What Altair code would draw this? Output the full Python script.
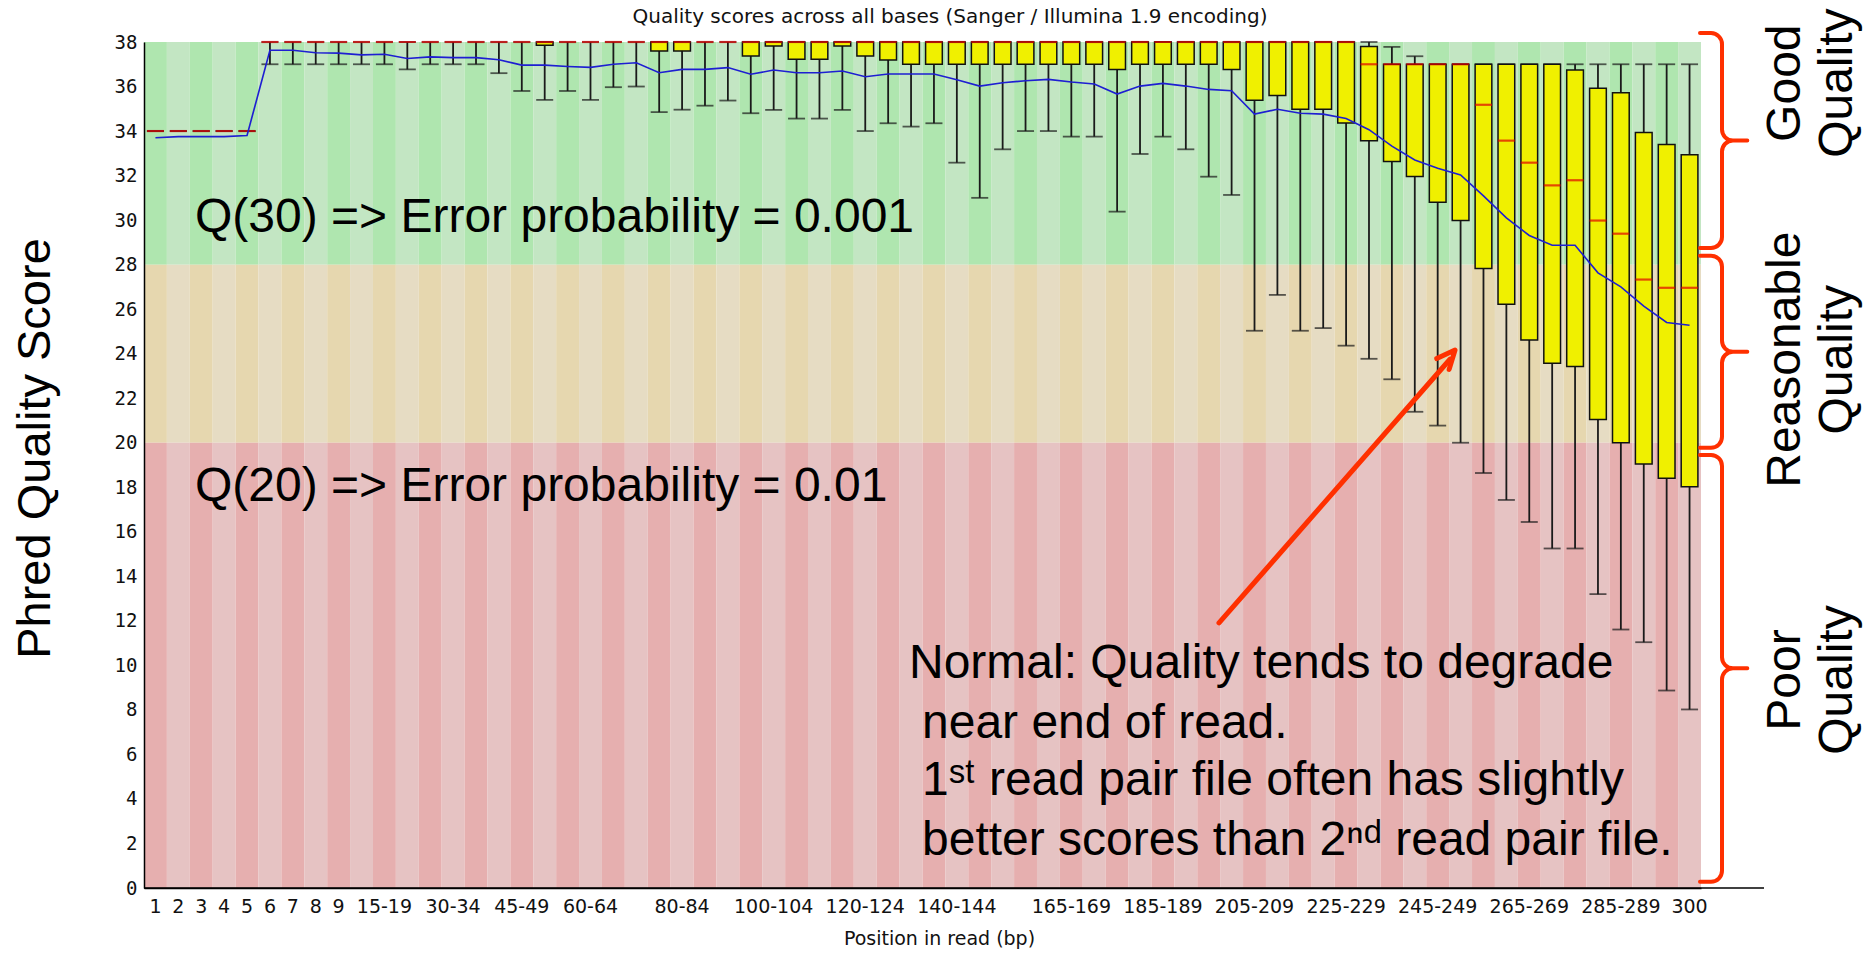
import altair as alt
import pandas as pd

# ---------------- data ----------------
chart_title = ["Quality scores across all bases (Sanger / Illumina 1.9 encoding)"]

positions = ["1", "2", "3", "4", "5", "6", "7", "8", "9", "10-14", "15-19", "20-24", "25-29",
             "30-34", "35-39", "40-44", "45-49", "50-54", "55-59", "60-64", "65-69", "70-74",
             "75-79", "80-84", "85-89", "90-94", "95-99", "100-104", "105-109", "110-114",
             "115-119", "120-124", "125-129", "130-134", "135-139", "140-144", "145-149",
             "150-154", "155-159", "160-164", "165-169", "170-174", "175-179", "180-184",
             "185-189", "190-194", "195-199", "200-204", "205-209", "210-214", "215-219",
             "220-224", "225-229", "230-234", "235-239", "240-244", "245-249", "250-254",
             "255-259", "260-264", "265-269", "270-274", "275-279", "280-284", "285-289",
             "290-294", "295-299", "300"]

axis_labels = ["1", "2", "3", "4", "5", "6", "7", "8", "9", "15-19", "30-34", "45-49", "60-64",
               "80-84", "100-104", "120-124", "140-144", "165-169", "185-189", "205-209",
               "225-229", "245-249", "265-269", "285-289", "300"]

mean_q = [33.70, 33.75, 33.75, 33.75, 33.80, 37.63, 37.63, 37.52, 37.50, 37.42,
          37.45, 37.26, 37.33, 37.30, 37.30, 37.20, 36.96, 36.96, 36.90, 36.86,
          37.00, 37.07, 36.62, 36.77, 36.77, 36.85, 36.55, 36.74, 36.62, 36.62,
          36.70, 36.44, 36.56, 36.56, 36.56, 36.30, 36.02, 36.17, 36.26, 36.32,
          36.20, 36.11, 35.66, 36.02, 36.14, 36.02, 35.87, 35.81, 34.76, 34.98,
          34.80, 34.76, 34.56, 34.06, 33.32, 32.70, 32.33, 32.03, 31.09, 30.10,
          29.31, 28.87, 28.87, 27.63, 27.00, 26.14, 25.40, 25.28]

median_q = [34, 34, 34, 34, 34] + [38] * 48 + [37, 37, 37, 37, 37,
            35.18, 33.57, 32.58, 31.56, 31.79, 29.98, 29.39, 27.33, 26.96, 26.96]

upper_q = [34, 34, 34, 34, 34] + [38] * 48 + [37.8, 37, 37, 37, 37, 37, 37, 37, 37,
           36.74, 35.92, 35.72, 33.94, 33.40, 32.93]

lower_q = [34, 34, 34, 34, 34, 38, 38, 38, 38, 38,
           38, 38, 38, 38, 38, 38, 38, 37.85, 38, 38,
           38, 38, 37.60, 37.60, 38, 38, 37.37, 37.82, 37.22, 37.22,
           37.82, 37.37, 37.19, 37.0, 37.0, 37.0, 37.0, 37.0, 37.0, 37.0,
           37.0, 37.0, 36.77, 37.0, 37.0, 37.0, 37.0, 36.77, 35.38, 35.60,
           34.98, 34.98, 34.36, 33.57, 32.63, 31.96, 30.80, 29.98, 27.83, 26.22,
           24.61, 23.57, 23.42, 21.04, 20.00, 19.04, 18.40, 18.02]

p10 = [34, 34, 34, 34, 34, 37, 37, 37, 37, 37,
       37, 36.77, 37, 37, 37, 36.60, 35.80, 35.40, 35.80, 35.40,
       35.97, 36.00, 34.85, 34.96, 35.14, 35.37, 34.80, 34.95, 34.56, 34.56,
       34.95, 34.00, 34.35, 34.20, 34.35, 32.58, 31.00, 33.18, 34.00, 34.00,
       33.75, 33.75, 30.38, 32.97, 33.75, 33.18, 31.95, 31.13, 25.03, 26.64,
       25.03, 25.15, 24.36, 23.77, 22.85, 21.39, 20.77, 20.00, 18.64, 17.43,
       16.44, 15.25, 15.25, 13.20, 11.61, 11.04, 8.87, 8.02]

p90 = [34, 34, 34, 34, 34] + [38] * 49 + [37.78, 37.36] + [37] * 12

zone_names = ["good", "reasonable", "poor"]
zone_low = [28, 20, 0]
zone_high = [38, 28, 20]

big_texts = ["Q(30) => Error probability = 0.001", "Q(20) => Error probability = 0.01"]
big_text_q = [30.1, 18.0]

note_first = ["Normal: Quality tends to degrade"]
note_first_q = [10.07]
note_rest = ["near end of read.",
             "1\u02e2\u1d57 read pair file often has slightly",
             "better scores than 2\u207f\u1d48 read pair file."]
note_rest_q = [7.38, 4.82, 2.12]

side_line1 = ["Good", "Reasonable", "Poor"]
side_line2 = ["Quality", "Quality", "Quality"]
side_label_q = [36.15, 23.73, 9.34]

brace_top = [38.4, 28.4, 19.45]
brace_bottom = [28.75, 19.77, 0.28]

arrow_tail_q = [11.91]
arrow_head_q = [23.75]
arrow_tip_q = [23.85]

# ---------------- tables ----------------
df = pd.DataFrame({"pos": positions, "mean": mean_q, "median": median_q,
                   "q1": lower_q, "q3": upper_q, "p10": p10, "p90": p90})

bg_rows = []
for i, p in enumerate(positions):
    for z, lo, hi in zip(zone_names, zone_low, zone_high):
        bg_rows.append({"pos": p, "lo": lo, "hi": hi, "shade": f"{z}{i % 2}"})
bg = pd.DataFrame(bg_rows)

shade_domain = ["good0", "good1", "reasonable0", "reasonable1", "poor0", "poor1"]
shade_range = ["#AFE6AF", "#C3E6C3", "#E6D7AF", "#E6DCC3", "#E6AFAF", "#E6C3C3"]

W, H = 1557, 846
xscale = alt.Scale(domain=positions, paddingInner=0, paddingOuter=0)
yscale = alt.Scale(domain=[0, 38], nice=False, zero=False)

X = alt.X("pos:N", scale=xscale)


def Y(field):
    return alt.Y(field, scale=yscale)


background = alt.Chart(bg).mark_rect().encode(
    x=alt.X("pos:N", scale=xscale, axis=alt.Axis(
        values=axis_labels, labelAngle=0, ticks=False, grid=False, domain=True,
        domainColor="#000", domainWidth=1.5, labelFont="DejaVu Sans", labelFontSize=19,
        labelColor="#111", labelPadding=9, labelOverlap=False, zindex=1,
        title="Position in read (bp)", titleFont="DejaVu Sans", titleFontSize=19,
        titleFontWeight="normal", titleColor="#111", titlePadding=13, titleX=795,
        titleAlign="center")),
    y=alt.Y("lo:Q", scale=yscale, axis=alt.Axis(
        values=list(range(0, 39, 2)), ticks=False, grid=False, domain=True,
        domainColor="#000", domainWidth=1.5, labelFont="DejaVu Sans Mono",
        labelFontSize=19, labelPadding=7, labelColor="#111", labelFlush=False, zindex=1,
        title="Phred Quality Score", titleFont="Liberation Sans", titleFontSize=47,
        titleFontWeight="normal", titleColor="#000", titleAngle=270, titleX=-109,
        titleY=406, titleAlign="center", titleBaseline="middle")),
    y2="hi:Q",
    color=alt.Color("shade:N", scale=alt.Scale(domain=shade_domain, range=shade_range),
                    legend=None),
)

title_mark = alt.Chart(pd.DataFrame({"t": chart_title})).mark_text(
    align="center", baseline="middle", font="DejaVu Sans", fontSize=20, color="#111"
).encode(x=alt.value(806), y=alt.value(-25), text="t:N")

axis_ext = alt.Chart(pd.DataFrame({"v": [0]})).mark_rule(color="#000", strokeWidth=1.5).encode(
    x=alt.value(0), x2=alt.value(1620), y=Y("v:Q"))

whiskers = alt.Chart(df).mark_rule(color="#1a1a1a", strokeWidth=1.8).encode(
    x=X, y=Y("p10:Q"), y2="p90:Q")

cap_lo = alt.Chart(df).mark_tick(color="#1a1a1a", thickness=1.8, size=17).encode(
    x=X, y=Y("p10:Q"))
cap_hi = alt.Chart(df).mark_tick(color="#1a1a1a", thickness=1.8, size=17).encode(
    x=X, y=Y("p90:Q"))

boxes = alt.Chart(df).transform_filter("datum.q3 > datum.q1").mark_bar(
    color="#F0F000", stroke="#111", strokeWidth=1.5, width=alt.RelativeBandSize(0.73)
).encode(x=X, y=Y("q1:Q"), y2="q3:Q")

medians = alt.Chart(df).mark_tick(color="#E00000", thickness=2.2, size=17).encode(
    x=X, y=Y("median:Q"))

mean_line = alt.Chart(df).mark_line(color="#1E1ED2", strokeWidth=1.6).encode(
    x=X, y=Y("mean:Q"))

big = alt.Chart(pd.DataFrame({"t": big_texts, "v": big_text_q})).mark_text(
    align="left", baseline="middle", font="Liberation Sans", fontSize=48, color="#000"
).encode(x=alt.value(51), y=Y("v:Q"), text="t:N")

notes1 = alt.Chart(pd.DataFrame({"t": note_first, "v": note_first_q})).mark_text(
    align="left", baseline="middle", font="Liberation Sans", fontSize=48, color="#000"
).encode(x=alt.value(765), y=Y("v:Q"), text="t:N")

notes2 = alt.Chart(pd.DataFrame({"t": note_rest, "v": note_rest_q})).mark_text(
    align="left", baseline="middle", font="Liberation Sans", fontSize=48, color="#000"
).encode(x=alt.value(778), y=Y("v:Q"), text="t:N")

side_df = pd.DataFrame({"a": side_line1, "b": side_line2, "v": side_label_q})
side_kw = dict(align="center", baseline="middle", font="Liberation Sans", fontSize=48,
               color="#000", angle=270)
side1 = alt.Chart(side_df).mark_text(**side_kw).encode(
    x=alt.value(1642), y=Y("v:Q"), text="a:N")
side2 = alt.Chart(side_df).mark_text(**side_kw).encode(
    x=alt.value(1694), y=Y("v:Q"), text="b:N")

# ---- curly braces (red) ----
RED = "#FF3000"
X0 = 1578       # brace spine, pixels from the plot's left edge
R = 11          # curl radius in pixels
SIZE = (2 * R) ** 2
braces_df = pd.DataFrame({"top": brace_top, "bot": brace_bottom})
bsrc = alt.Chart(braces_df).transform_calculate(mid="(datum.top + datum.bot) / 2")
TOP_END = "M -2 0 L -1 0 A 1 1 0 0 1 0 1 L 0 1.4"
BOT_END = "M 0 -1.4 L 0 -1 A 1 1 0 0 1 -1 0 L -2 0"
MID_TIP = "M 0 -1.4 L 0 -1 A 1 1 0 0 0 1 0 L 2.3 0 M 1 0 A 1 1 0 0 0 0 1 L 0 1.4"
pt_kw = dict(filled=False, color=RED, stroke=RED, strokeWidth=4, opacity=1, size=SIZE,
             strokeCap="round", strokeJoin="round")

brace_parts = [
    bsrc.mark_rule(color=RED, strokeWidth=4, yOffset=R, y2Offset=-R).encode(
        x=alt.value(X0), y=Y("top:Q"), y2="mid:Q"),
    bsrc.mark_rule(color=RED, strokeWidth=4, yOffset=R, y2Offset=-R).encode(
        x=alt.value(X0), y=Y("mid:Q"), y2="bot:Q"),
    bsrc.mark_point(shape=TOP_END, **pt_kw).encode(x=alt.value(X0), y=Y("top:Q")),
    bsrc.mark_point(shape=BOT_END, **pt_kw).encode(x=alt.value(X0), y=Y("bot:Q")),
    bsrc.mark_point(shape=MID_TIP, **pt_kw).encode(x=alt.value(X0), y=Y("mid:Q")),
]

arrow_df = pd.DataFrame({"a": arrow_tail_q, "b": arrow_head_q, "c": arrow_tip_q})
arrow_line = alt.Chart(arrow_df).mark_rule(color=RED, strokeWidth=5, strokeCap="round").encode(
    x=alt.value(1075), x2=alt.value(1306), y=Y("a:Q"), y2="b:Q")
arrow_head = alt.Chart(arrow_df).mark_point(
    shape="M -0.8 0.9 L 0 -0.9 L 0.8 0.9", filled=False, color=RED, stroke=RED,
    strokeWidth=5, strokeCap="round", strokeJoin="round", opacity=1, size=420, angle=41
).encode(x=alt.value(1305), y=Y("c:Q"))

chart = alt.layer(
    background, axis_ext, whiskers, cap_lo, cap_hi, boxes, medians, mean_line,
    big, notes1, notes2, arrow_line, arrow_head, *brace_parts, side1, side2, title_mark
).properties(
    width=W, height=H,
    autosize=alt.AutoSizeParams(type="none"),
    padding={"left": 144, "top": 42, "right": 169, "bottom": 65},
).configure(background="white").configure_view(strokeWidth=0)

chart.save("out.html", embed_options={"renderer": "svg", "actions": False})
